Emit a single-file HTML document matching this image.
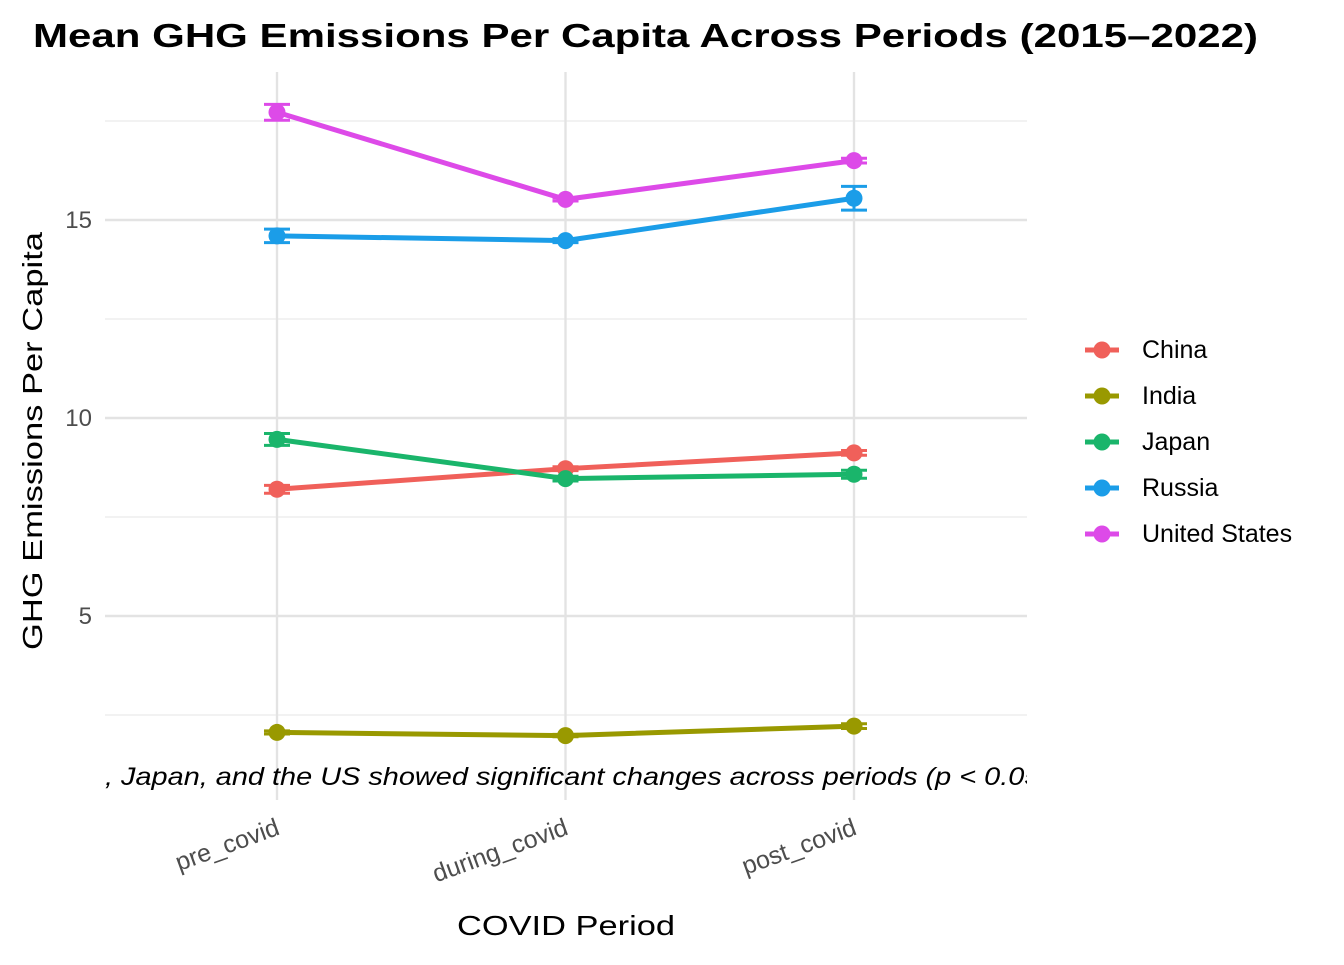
<!DOCTYPE html>
<html><head><meta charset="utf-8"><style>
body{margin:0;background:#fff;font-family:"Liberation Sans",Arial,sans-serif}
</style></head><body>
<svg id="chart" width="1344" height="960" font-family="Liberation Sans, Arial, sans-serif">
<defs><clipPath id="pc"><rect x="105" y="72" width="922" height="728"/></clipPath></defs>
<text x="33" y="47" font-size="33" font-weight="bold" textLength="1225" lengthAdjust="spacingAndGlyphs">Mean GHG Emissions Per Capita Across Periods (2015–2022)</text>
<g id="grid"></g>
<g id="marks"></g>
<text x="105" y="785" font-size="25" font-style="italic" textLength="945" lengthAdjust="spacingAndGlyphs" clip-path="url(#pc)">, Japan, and the US showed significant changes across periods (p &lt; 0.05)</text>
<g id="axes"></g>
<text x="457" y="935" font-size="28" textLength="218" lengthAdjust="spacingAndGlyphs">COVID Period</text>
<text transform="translate(42,650) rotate(-90)" font-size="28" textLength="418" lengthAdjust="spacingAndGlyphs">GHG Emissions Per Capita</text>
<g id="legend"></g>
</svg>
<script>
const categories=["pre_covid","during_covid","post_covid"];
const countries=["China","India","Japan","Russia","United States"];
const colors=["#F0605A","#999900","#1AB56B","#1B9DE8","#DD4AE8"];
const china=[8.2,8.72,9.12];
const india=[2.06,1.98,2.22];
const japan=[9.46,8.47,8.58];
const russia=[14.6,14.48,15.55];
const us=[17.72,15.52,16.5];
const chinaErr=[0.1,0.05,0.06];
const indiaErr=[0.04,0.03,0.06];
const japanErr=[0.15,0.06,0.1];
const russiaErr=[0.17,0.05,0.3];
const usErr=[0.2,0.04,0.06];
const yTicks=[5,10,15];
const yMinor=[2.5,7.5,12.5,17.5];
const series=[china,india,japan,russia,us];
const errs=[chinaErr,indiaErr,japanErr,russiaErr,usErr];
const NS="http://www.w3.org/2000/svg";
const y=v=>814-v*39.6;
const x=i=>277+i*288.5;
function mk(t,a,p){const e=document.createElementNS(NS,t);for(const k in a)e.setAttribute(k,a[k]);p.appendChild(e);return e;}
const grid=document.getElementById('grid'),marks=document.getElementById('marks'),axes=document.getElementById('axes'),legend=document.getElementById('legend');
yMinor.forEach(v=>{const l=mk('line',{x1:105,x2:1027,y1:y(v),y2:y(v),stroke:'#ebebeb','stroke-width':1.2},grid);

});
yTicks.forEach(v=>{const l=mk('line',{x1:105,x2:1027,y1:y(v),y2:y(v),stroke:'#e3e3e3','stroke-width':2.4},grid);


const t=mk('text',{x:92,y:y(v)+8,'text-anchor':'end','font-size':24,fill:'#4d4d4d'},axes);t.textContent=v;

});
categories.forEach((c,i)=>{const l=mk('line',{x1:x(i),x2:x(i),y1:72,y2:800,stroke:'#e3e3e3','stroke-width':2.4},grid);


const t=mk('text',{transform:`translate(${x(i)+4},${834}) rotate(-20)`,'text-anchor':'end','font-size':25,fill:'#4d4d4d'},axes);t.textContent=c;

});
series.forEach((s,k)=>{const col=colors[k];
const g=mk('g',{},marks);


mk('polyline',{points:s.map((v,i)=>x(i)+','+y(v)).join(' '),fill:'none',stroke:col,'stroke-width':5},g);
s.forEach((v,i)=>{const e=errs[k][i],t=y(v+e),b=y(v-e);
mk('path',{d:`M${x(i)-13},${t}H${x(i)+13}M${x(i)},${t}V${b}M${x(i)-13},${b}H${x(i)+13}`,stroke:col,'stroke-width':3,fill:'none'},g);
const p=mk('circle',{cx:x(i),cy:y(v),r:8.5,fill:col},g);

});});
countries.forEach((c,k)=>{const yy=350+k*46;
const g=mk('g',{},legend);


mk('line',{x1:1085,x2:1119,y1:yy,y2:yy,stroke:colors[k],'stroke-width':5},g);
mk('circle',{cx:1102,cy:yy,r:8.5,fill:colors[k]},g);
const t=mk('text',{x:1142,y:yy+8,'font-size':25},g);t.textContent=c;});
</script>
</body></html>
